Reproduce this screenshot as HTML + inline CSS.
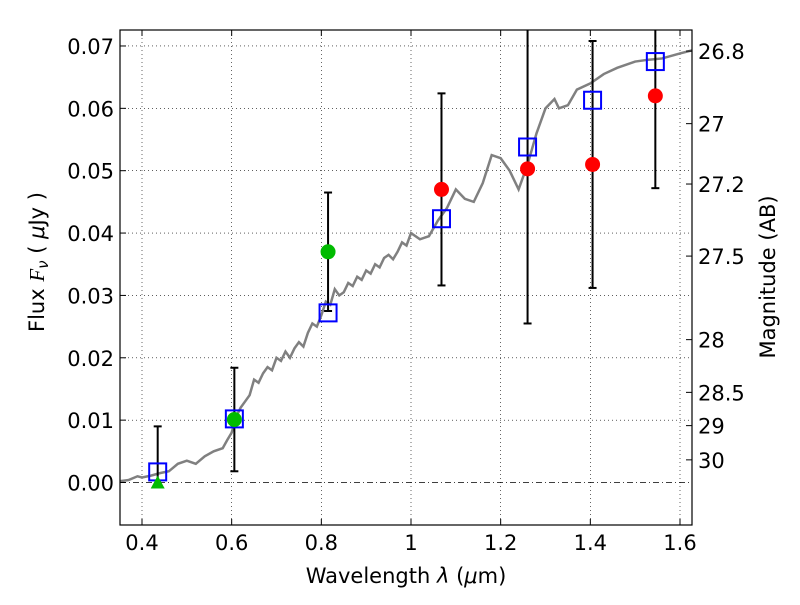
<!DOCTYPE html>
<html><head><meta charset="utf-8"><style>
body{margin:0;background:#fff}
svg text{font-family:"DejaVu Sans","Liberation Sans",sans-serif;fill:#000}
</style></head><body>
<svg id="chart" width="800" height="600" xmlns="http://www.w3.org/2000/svg"></svg>
<script>
const xTicks=[0.4,0.6,0.8,1.0,1.2,1.4,1.6];
const xTickLabels=["0.4","0.6","0.8","1","1.2","1.4","1.6"];
const yTicks=[0,0.01,0.02,0.03,0.04,0.05,0.06,0.07];
const yTickLabels=["0.00","0.01","0.02","0.03","0.04","0.05","0.06","0.07"];
const magTicks=[26.8,27,27.2,27.5,28,28.5,29,30];
const magTickLabels=["26.8","27","27.2","27.5","28","28.5","29","30"];
const specX=[0.35,0.37,0.39,0.40,0.42,0.44,0.46,0.48,0.50,0.52,0.54,0.56,0.58,0.59,0.60,0.61,0.62,0.63,0.64,0.65,0.66,0.67,0.68,0.69,0.70,0.71,0.72,0.73,0.74,0.75,0.76,0.77,0.78,0.79,0.80,0.81,0.82,0.83,0.84,0.85,0.86,0.87,0.88,0.89,0.90,0.91,0.92,0.93,0.94,0.95,0.96,0.97,0.98,0.99,1.00,1.02,1.04,1.06,1.08,1.10,1.12,1.14,1.16,1.18,1.20,1.22,1.24,1.26,1.28,1.30,1.32,1.33,1.35,1.37,1.40,1.43,1.46,1.50,1.53,1.56,1.60,1.627];
const specY=[0.0002,0.0004,0.0010,0.0008,0.0011,0.0015,0.0018,0.0030,0.0035,0.0030,0.0042,0.0050,0.0055,0.0068,0.0080,0.0105,0.0120,0.0130,0.0140,0.0165,0.0160,0.0175,0.0185,0.0180,0.0200,0.0195,0.0210,0.0200,0.0215,0.0225,0.0218,0.0240,0.0255,0.0250,0.0268,0.0290,0.0285,0.0310,0.0300,0.0305,0.0320,0.0315,0.0330,0.0325,0.0340,0.0335,0.0350,0.0345,0.0360,0.0365,0.0358,0.0370,0.0385,0.0380,0.0400,0.0390,0.0395,0.0420,0.0440,0.0470,0.0455,0.0450,0.0480,0.0525,0.0520,0.0500,0.0470,0.0510,0.0560,0.0600,0.0615,0.0600,0.0605,0.0630,0.0640,0.0655,0.0665,0.0675,0.0678,0.0680,0.0688,0.0693];
const modelX=[0.435,0.606,0.815,1.068,1.26,1.405,1.545];
const modelY=[0.0017,0.0102,0.0272,0.0423,0.0538,0.0613,0.0675];
const obsX=[0.435,0.606,0.815,1.068,1.26,1.405,1.545];
const obsY=[0.0,0.0101,0.0370,0.0470,0.0503,0.0510,0.0620];
const obsErr=[0.009,0.0083,0.0095,0.0154,0.0248,0.0198,0.0148];
const obsKind=["limit","green","green","red","red","red","red"];

const L=120,R=692,T=30,B=525;
const X=v=>142+(v-0.4)*(680-142)/1.2;
const Y=v=>482.5-v*6236;
const NS="http://www.w3.org/2000/svg";
const svg=document.getElementById('chart');
function el(tag,attrs,parent){const e=document.createElementNS(NS,tag);for(const k in attrs)e.setAttribute(k,attrs[k]);(parent||svg).appendChild(e);return e;}
const clip=el('clipPath',{id:'c'});el('rect',{x:L,y:T,width:R-L,height:B-T},clip);
const g=el('g',{'clip-path':'url(#c)'});


xTicks.forEach(t=>{const l=el('line',{x1:X(t),x2:X(t),y1:T,y2:B,stroke:'#000','stroke-width':0.6,'stroke-dasharray':'1,3'},g);

});
yTicks.forEach(t=>{if(t===0)return;const l=el('line',{x1:L,x2:R,y1:Y(t),y2:Y(t),stroke:'#000','stroke-width':0.6,'stroke-dasharray':'1,3'},g);

});
const zl=el('line',{x1:L,x2:R,y1:Y(0),y2:Y(0),stroke:'#000','stroke-width':0.7,'stroke-dasharray':'6,3,1,3'},g);


const sp=el('polyline',{points:specX.map((x,i)=>X(x)+','+Y(specY[i])).join(' '),fill:'none',stroke:'#808080','stroke-width':2.5},g);


obsX.forEach((x,i)=>{
  const lo=obsKind[i]==='limit'?obsY[i]:obsY[i]-obsErr[i];const hi=obsY[i]+obsErr[i];
  const eb=el('g',{},g);
  
  
  el('line',{x1:X(x),x2:X(x),y1:Y(lo),y2:Y(hi),stroke:'#000','stroke-width':2},eb);
  el('line',{x1:X(x)-4,x2:X(x)+4,y1:Y(hi),y2:Y(hi),stroke:'#000','stroke-width':2},eb);
  if(obsKind[i]!=='limit')el('line',{x1:X(x)-4,x2:X(x)+4,y1:Y(lo),y2:Y(lo),stroke:'#000','stroke-width':2},eb);
});
modelX.forEach((x,i)=>{const r=el('rect',{x:X(x)-8.5,y:Y(modelY[i])-8.5,width:17,height:17,fill:'none',stroke:'#0000ff','stroke-width':2},g);

});
obsX.forEach((x,i)=>{
  let m;
  if(obsKind[i]==='limit'){const cx=X(x),cy=Y(obsY[i]);m=el('polygon',{points:`${cx},${cy-7} ${cx-7},${cy+6} ${cx+7},${cy+6}`,fill:'#00bb00'},g);}
  else m=el('circle',{cx:X(x),cy:Y(obsY[i]),r:7.5,fill:obsKind[i]==='green'?'#00bb00':'#ff0000'},g);
  
  
});
const fr=el('rect',{x:L,y:T,width:R-L,height:B-T,fill:'none',stroke:'#000','stroke-width':1.2});


xTicks.forEach((t,i)=>{el('line',{x1:X(t),x2:X(t),y1:B,y2:B-6,stroke:'#000'});el('line',{x1:X(t),x2:X(t),y1:T,y2:T+6,stroke:'#000'});
const tx=el('text',{x:X(t),y:B+25,'text-anchor':'middle','font-size':21});tx.textContent=xTickLabels[i];

});
yTicks.forEach((t,i)=>{el('line',{x1:L,x2:L+6,y1:Y(t),y2:Y(t),stroke:'#000'});
const tx=el('text',{x:L-6,y:Y(t)+8,'text-anchor':'end','font-size':21});tx.textContent=yTickLabels[i];

});
magTicks.forEach((m,i)=>{const y=Y(Math.pow(10,(23.9-m)/2.5));el('line',{x1:R,x2:R-6,y1:y,y2:y,stroke:'#000'});
const tx=el('text',{x:R+6,y:y+8,'font-size':21});tx.textContent=magTickLabels[i];

});
</script>
<svg style="position:absolute;left:0;top:0" width="800" height="600">
<text x="406" y="583" text-anchor="middle" font-size="21">Wavelength  <tspan font-style="italic">λ</tspan> (<tspan font-style="italic">μ</tspan>m)</text>
<text transform="translate(44,262) rotate(-90)" text-anchor="middle" font-size="21">Flux  <tspan font-style="italic" font-family="Liberation Serif">F</tspan><tspan font-style="italic" font-size="15" dy="4">ν</tspan><tspan dy="-4">  (  </tspan><tspan font-style="italic">μ</tspan>Jy )</text>
<text transform="translate(775,277) rotate(-90)" text-anchor="middle" font-size="21">Magnitude (AB)</text>
</svg>
</body></html>
